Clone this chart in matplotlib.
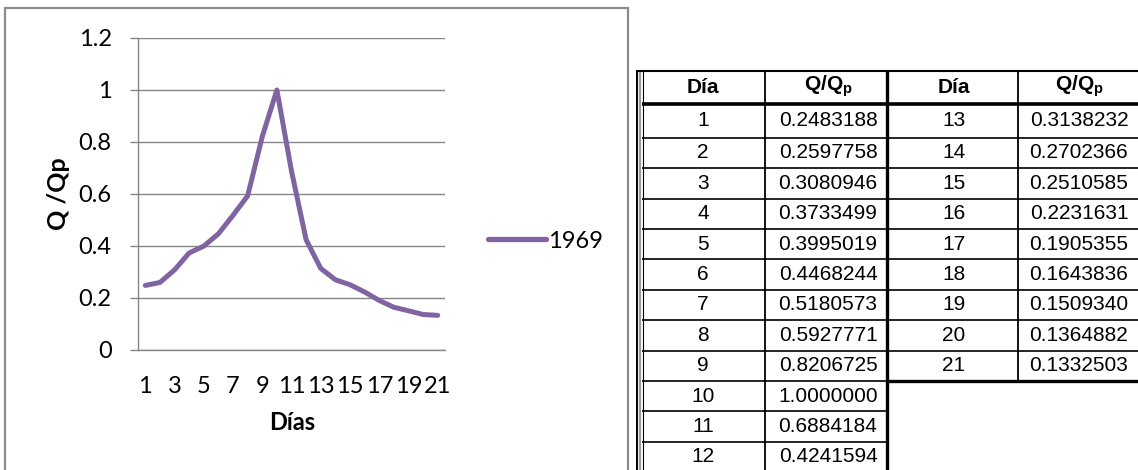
import matplotlib
matplotlib.use("Agg")
import matplotlib.pyplot as plt
from matplotlib.lines import Line2D
from matplotlib.patches import Rectangle

# Dimensionless hydrograph, 1969 event
days = list(range(1, 22))
q_qp = [0.2483188, 0.2597758, 0.3080946, 0.3733499, 0.3995019, 0.4468244,
        0.5180573, 0.5927771, 0.8206725, 1.0000000, 0.6884184, 0.4241594,
        0.3138232, 0.2702366, 0.2510585, 0.2231631, 0.1905355, 0.1643836,
        0.1509340, 0.1364882, 0.1332503]
series_name = "1969"
y_ticks = [0, 0.2, 0.4, 0.6, 0.8, 1.0, 1.2]
x_tick_days = days[::2]

W, H = 1138, 470
plt.rcParams['mathtext.fontset'] = 'custom'
plt.rcParams['mathtext.bf'] = 'Liberation Sans:bold'
plt.rcParams['mathtext.rm'] = 'Liberation Sans'
plt.rcParams['mathtext.it'] = 'Liberation Sans:italic'

fig = plt.figure(figsize=(W / 100, H / 100), dpi=100)


def fx(x):
    return x / W


def fy(y):
    return 1 - y / H


def hline(x0, x1, y, lw=1.1, color='black'):
    fig.add_artist(Line2D([fx(x0), fx(x1)], [fy(y), fy(y)], transform=fig.transFigure,
                          color=color, lw=lw, solid_capstyle='butt'))


def vline(x, y0, y1, lw=1.1, color='black'):
    fig.add_artist(Line2D([fx(x), fx(x)], [fy(y0), fy(y1)], transform=fig.transFigure,
                          color=color, lw=lw, solid_capstyle='butt'))


# chart frame
frame = Rectangle((fx(5), fy(520)), fx(628) - fx(5), fy(8) - fy(520),
                  transform=fig.transFigure, fill=False, edgecolor='#8c8c8c', lw=1.6)
fig.add_artist(frame)

grid_c = '#868686'
purple = '#8064A2'
chart_font = 'Lato'

ax = fig.add_axes([fx(138), fy(350), fx(445) - fx(138), fy(38) - fy(350)])
ax.plot(days, q_qp, color=purple, lw=3.6, solid_joinstyle='round',
        solid_capstyle='round', label=series_name)
ax.set_xlim(0.5, 21.5)
ax.set_ylim(0, 1.2)
ax.set_yticks(y_ticks)
ax.set_yticklabels([f'{v:g}' for v in y_ticks])
ax.set_xticks(x_tick_days)
ax.set_xticklabels([str(d) for d in x_tick_days])
ax.grid(axis='y', color=grid_c, lw=1.0)
ax.set_axisbelow(True)
for s in ['top', 'right']:
    ax.spines[s].set_visible(False)
for s in ['left', 'bottom']:
    ax.spines[s].set_color(grid_c)
    ax.spines[s].set_linewidth(1.0)
ax.tick_params(axis='y', direction='out', length=6, width=1.0, color=grid_c,
               pad=13, labelsize=17)
ax.tick_params(axis='x', length=0, pad=19, labelsize=17)
for lab in ax.get_xticklabels() + ax.get_yticklabels():
    lab.set_family(chart_font)

fig.text(fx(58), fy(194), 'Q /Qp', rotation=90, ha='center', va='center',
         fontsize=18, fontweight='bold', family=chart_font)
fig.text(fx(292), fy(423), 'Días', ha='center', va='center',
         fontsize=17, fontweight='bold', family=chart_font)

leg = ax.legend(loc='center left', bbox_to_anchor=(fx(488), fy(241)),
                bbox_transform=fig.transFigure, frameon=False, borderpad=0,
                borderaxespad=0, handlelength=2.45, handletextpad=0.08,
                prop={'family': chart_font, 'size': 17})
leg.get_lines()[0].set_linewidth(3.8)

# data table
tab_font = 'Liberation Sans'
col_x = [642, 765, 887, 1018, 1140]
row_y = [71, 104.3, 137.7, 168.1, 198.5, 228.9, 259.3, 289.7, 320.1, 350.5,
         380.9, 411.3, 441.7, 472]
left_rows = 12
right_rows = len(days) - left_rows

# double left border
vline(637, 70, 480, lw=1.4)
vline(640, 71, 480, lw=1.6, color='#9a9a9a')
vline(642.6, 71, 480, lw=0.8)
hline(636, 1140, 71, lw=1.5)
hline(642, 1140, row_y[1], lw=2.6)
# left block
for r in range(2, left_rows + 2):
    hline(642, 887, row_y[r], lw=1.2)
vline(col_x[1], 71, 480, lw=1.3)
vline(col_x[2], 71, 480, lw=2.4)
# right block
for r in range(2, right_rows + 1):
    hline(887, 1140, row_y[r], lw=1.2)
hline(887, 1140, row_y[right_rows + 1], lw=2.4)
vline(col_x[3], 71, row_y[right_rows + 1], lw=1.3)

centers = [703, 828, 954, 1079]
head_y = (row_y[0] + row_y[1]) / 2
for c0 in (0, 2):
    fig.text(fx(centers[c0]), fy(head_y), 'Día', ha='center', va='center',
             fontsize=15, fontweight='bold', family=tab_font)
    fig.text(fx(centers[c0 + 1]), fy(head_y - 1), r'$\mathbf{Q/Q_p}$', ha='center',
             va='center', fontsize=15)

for i, (d, v) in enumerate(zip(days, q_qp)):
    if i < left_rows:
        r, c0 = i, 0
    else:
        r, c0 = i - left_rows, 2
    yc = (row_y[r + 1] + row_y[r + 2]) / 2
    fig.text(fx(centers[c0]), fy(yc), str(d), ha='center', va='center',
             fontsize=15, family=tab_font)
    fig.text(fx(centers[c0 + 1]), fy(yc), f'{v:.7f}', ha='center', va='center',
             fontsize=15, family=tab_font)

fig.savefig('out.png', dpi=100)
